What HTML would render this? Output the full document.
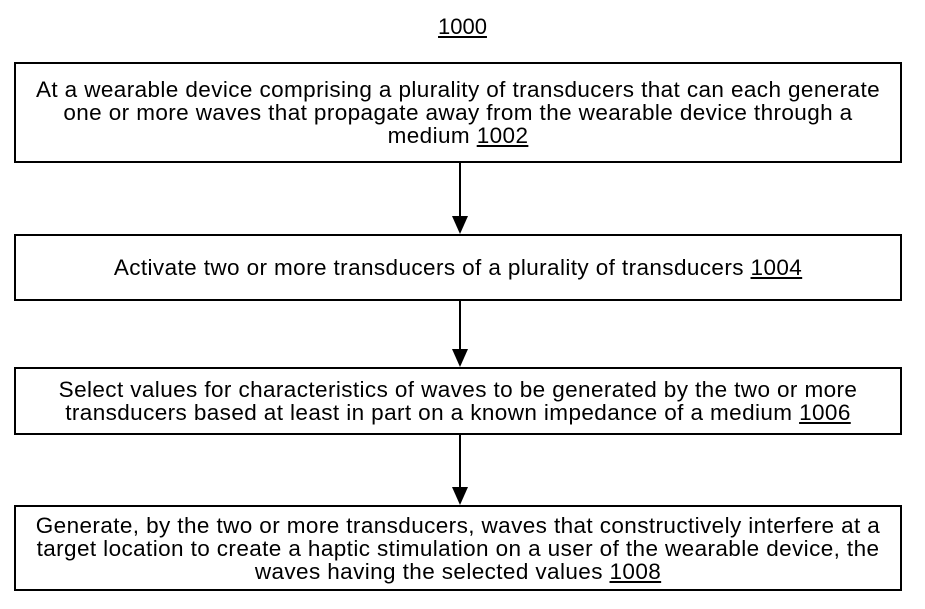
<!DOCTYPE html>
<html><head><style>
body{margin:0;width:925px;height:609px;background:#fff;position:relative;font-family:"Liberation Sans",Arial,sans-serif;color:#000;overflow:hidden}
.b{position:absolute;left:14px;width:888px;border:2px solid #000;box-sizing:border-box;display:flex;align-items:center;justify-content:center}
.b div{text-align:center;font-size:22.5px;line-height:23px;letter-spacing:0.4px;white-space:nowrap}
.t{position:absolute;left:0;width:925px;text-align:center;top:14px;font-size:22px}
u{text-decoration:underline}
.l{position:absolute;left:459px;width:2px;background:#000}
.a{position:absolute;left:452px;width:0;height:0;border-left:8px solid transparent;border-right:8px solid transparent;border-top:18px solid #000}
</style></head><body>
<div class="t"><u>1000</u></div>
<div class="b" style="top:62px;height:101px"><div>At a wearable device comprising a plurality of transducers that can each generate<br>one or more waves that propagate away from the wearable device through a<br>medium <u>1002</u></div></div>
<div class="l" style="top:163px;height:55px"></div><div class="a" style="top:216px"></div>
<div class="b" style="top:234px;height:67px"><div>Activate two or more transducers of a plurality of transducers <u>1004</u></div></div>
<div class="l" style="top:301px;height:50px"></div><div class="a" style="top:349px"></div>
<div class="b" style="top:367px;height:68px"><div>Select values for characteristics of waves to be generated by the two or more<br>transducers based at least in part on a known impedance of a medium <u>1006</u></div></div>
<div class="l" style="top:435px;height:54px"></div><div class="a" style="top:487px"></div>
<div class="b" style="top:505px;height:86px"><div>Generate, by the two or more transducers, waves that constructively interfere at a<br>target location to create a haptic stimulation on a user of the wearable device, the<br>waves having the selected values <u>1008</u></div></div>
</body></html>
